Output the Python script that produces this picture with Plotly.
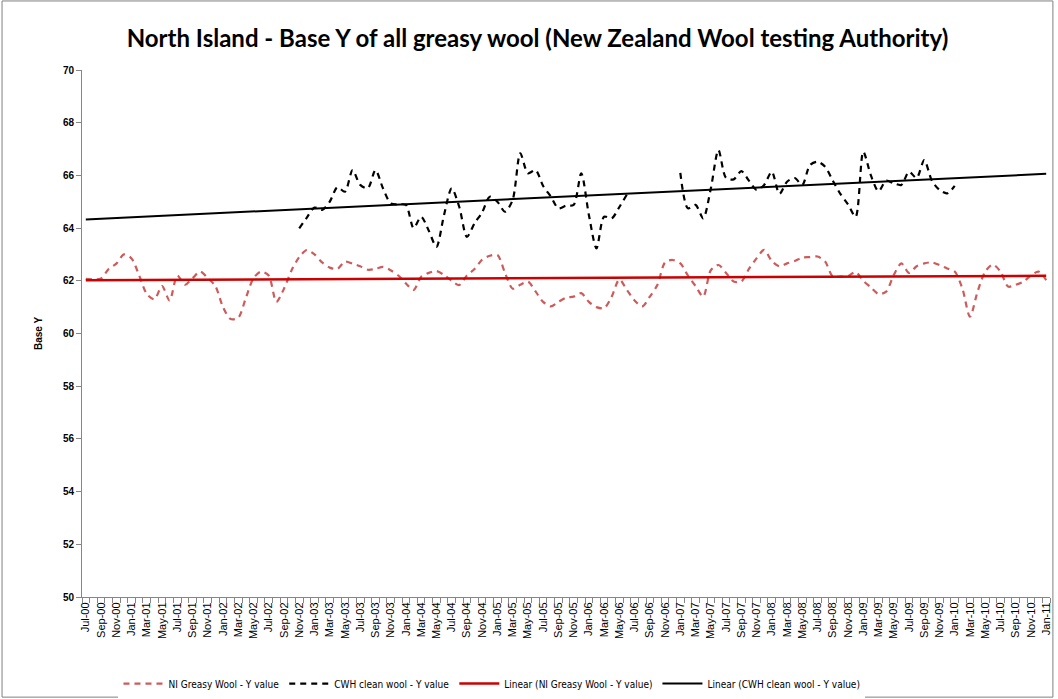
import numpy as np
import pandas as pd
import plotly.graph_objects as go

# Monthly categories Jul-00 .. Jan-11
months = pd.date_range("2000-07-01", "2011-01-01", freq="MS")
categories = [d.strftime("%b-%y") for d in months]
idx = list(range(len(categories)))

ni_greasy = [
    62.07, 62.05, 62.09, 62.45, 62.65, 63.0, 62.85, 62.2, 61.5, 61.3,
    61.8, 61.25, 62.2, 61.85, 62.1, 62.35, 62.1, 61.8, 61.0, 60.55,
    60.6, 61.35, 62.1, 62.35, 62.2, 61.2, 61.7, 62.4, 62.9, 63.17,
    63.0, 62.7, 62.5, 62.45, 62.73, 62.65, 62.55, 62.42, 62.45, 62.53,
    62.4, 62.2, 61.9, 61.65, 62.15, 62.3, 62.37, 62.22, 62.0, 61.84,
    62.2, 62.45, 62.8, 62.95, 62.98, 62.3, 61.7, 61.85, 61.97, 61.6,
    61.2, 61.03, 61.2, 61.36, 61.4, 61.53, 61.2, 61.0, 60.96, 61.4,
    62.05, 61.65, 61.25, 61.03, 61.4, 61.85, 62.7, 62.79, 62.66, 62.2,
    61.8, 61.4, 62.4, 62.6, 62.3, 61.97, 61.97, 62.45, 62.85, 63.17,
    62.75, 62.55, 62.66, 62.75, 62.88, 62.9, 62.92, 62.73, 62.16, 62.16,
    62.18, 62.33, 62.0, 61.75, 61.5, 61.59, 62.22, 62.66, 62.3, 62.55,
    62.66, 62.7, 62.6, 62.47, 62.35, 61.71, 60.64, 61.59, 62.35, 62.62,
    62.35, 61.78, 61.85, 61.97, 62.2, 62.35, 62.03,
]

N = None
cwh_clean = [N] * 28 + [
    63.99, 64.4, 64.78, 64.69, 65.0, 65.55, 65.38, 66.2, 65.64, 65.51,
    66.2, 65.5, 64.94, 64.9, 64.88, 64.0, 64.43, 63.9, 63.29, 64.5,
    65.51, 64.8, 63.67, 64.18, 64.6, 65.19, 65.0, 64.62, 65.07, 66.84,
    66.08, 66.2, 65.6, 65.2, 64.75, 64.85, 64.88, 66.08, 64.5, 63.23,
    64.43, 64.37, 64.8, 65.28,
] + [N] * 6 + [
    66.1, 64.75, 64.88, 64.37, 65.5, 66.96, 65.9, 65.85, 66.16, 65.8,
    65.45, 65.64, 66.14, 65.3, 65.76, 65.9, 65.64, 66.39, 66.52, 66.33,
    65.8, 65.3, 64.9, 64.43, 66.9, 66.0, 65.4, 65.8, 65.7, 65.64,
    66.14, 65.9, 66.58, 65.8, 65.45, 65.32, 65.6,
]
cwh_clean = cwh_clean + [N] * (len(categories) - len(cwh_clean))

tick_labels = categories[::2]
tick_positions = idx[::2]


def linear_fit(x, y):
    xa = np.array([a for a, b in zip(x, y) if b is not None], dtype=float)
    ya = np.array([b for b in y if b is not None], dtype=float)
    m, c = np.polyfit(xa, ya, 1)
    xs = np.array([x[0], x[-1]], dtype=float)
    return xs, m * xs + c


fit_ni_x, fit_ni_y = linear_fit(idx, ni_greasy)
fit_cwh_x, fit_cwh_y = linear_fit(idx, cwh_clean)

fig = go.Figure()
fig.add_trace(go.Scatter(
    x=idx, y=ni_greasy, mode="lines", name="NI Greasy Wool - Y value",
    line=dict(color="#CD5B5B", width=2.2, dash="6px,5px", shape="spline", smoothing=0.8),
))
fig.add_trace(go.Scatter(
    x=idx, y=cwh_clean, mode="lines", name="CWH clean wool - Y value",
    line=dict(color="#000000", width=2.2, dash="6px,5px", shape="spline", smoothing=0.8),
    connectgaps=False,
))
fig.add_trace(go.Scatter(
    x=fit_ni_x, y=fit_ni_y, mode="lines", name="Linear (NI Greasy Wool - Y value)",
    line=dict(color="#CC0000", width=2.5),
))
fig.add_trace(go.Scatter(
    x=fit_cwh_x, y=fit_cwh_y, mode="lines", name="Linear (CWH clean wool - Y value)",
    line=dict(color="#000000", width=2),
))

fig.update_layout(
    width=1058, height=699,
    margin=dict(l=82, r=8, t=70, b=102, autoexpand=False),
    paper_bgcolor="white", plot_bgcolor="white",
    title=dict(
        text="<b>North Island - Base Y of all greasy wool (New Zealand Wool testing Authority)</b>",
        x=0.508, xanchor="center", y=0.945, yanchor="middle",
        font=dict(family="Lato, Open Sans, sans-serif", size=24, color="#000000"),
    ),
    showlegend=True,
    legend=dict(
        orientation="h", xref="container", x=0.465, xanchor="center",
        yref="container", y=0.022, yanchor="middle",
        font=dict(family="DejaVu Sans Condensed, Liberation Sans Narrow, sans-serif", size=10, color="#000"),
        itemwidth=40, tracegroupgap=0,
    ),
    shapes=[dict(type="rect", xref="paper", yref="paper",
                 x0=-0.0826, x1=1.003, y0=-0.19, y1=1.131,
                 line=dict(color="#808080", width=1), layer="below")],
)

fig.update_xaxes(
    range=[-0.5, len(categories) - 0.5], automargin=False,
    tickmode="array", tickvals=tick_positions, ticktext=tick_labels,
    tickangle=-90, tickfont=dict(family="Arial, Liberation Sans, sans-serif", size=11, color="#000"),
    showline=True, linecolor="#868686", linewidth=1, mirror=False,
    ticks="", showgrid=False, zeroline=False,
    minor=dict(tickmode="linear", tick0=-0.5, dtick=1, ticks="outside", ticklen=5,
               tickcolor="#868686", showgrid=False),
)
fig.update_yaxes(
    range=[50, 70], dtick=2, tick0=50, automargin=False,
    tickfont=dict(family="Arial, Liberation Sans, sans-serif", size=10, color="#000", weight="bold"),
    showline=True, linecolor="#868686", linewidth=1,
    ticks="outside", ticklen=5, tickcolor="#868686",
    showgrid=False, zeroline=False,
    title=dict(text="<b>Base Y</b>", font=dict(family="Arial, Liberation Sans, sans-serif", size=10, color="#000"), standoff=18),
)

fig.write_html("out.html")
